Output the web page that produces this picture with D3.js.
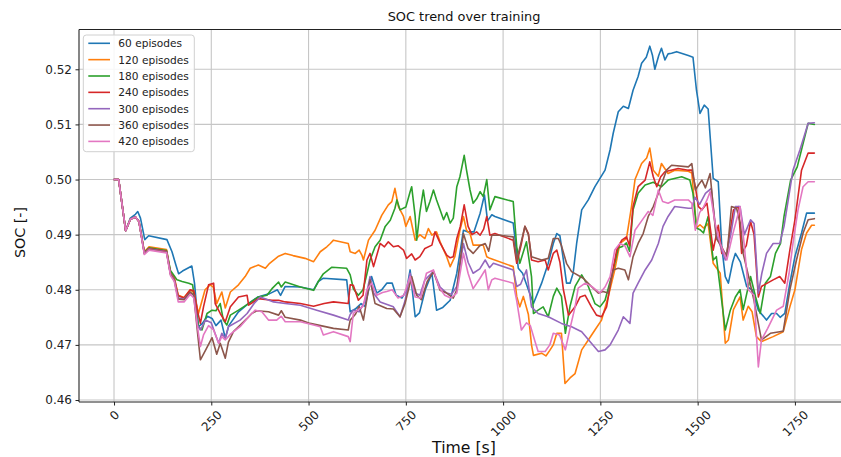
<!DOCTYPE html>
<html>
<head>
<meta charset="utf-8">
<script src="https://cdn.jsdelivr.net/npm/d3@7"></script>
<style>
  html, body { margin: 0; padding: 0; background: #fff; }
  svg { display: block; font-family: "DejaVu Sans", sans-serif; }
</style>
</head>
<body>
<svg id="chart" width="841" height="457"></svg>
<script>
// Tick values
const timeTicks = [0, 250, 500, 750, 1000, 1250, 1500, 1750];
const socTicks = [0.46, 0.47, 0.48, 0.49, 0.50, 0.51, 0.52];

// Legend labels and colours (one per training checkpoint)
const episodeLabels = ["60 episodes", "120 episodes", "180 episodes", "240 episodes", "300 episodes", "360 episodes", "420 episodes"];
const episodeColors = ["#1f77b4", "#ff7f0e", "#2ca02c", "#d62728", "#9467bd", "#8c564b", "#e377c2"];

// SOC traces: [time in s, SOC]
const soc60 = [[0,0.5000],[12,0.5000],[30,0.4907],[42,0.4930],[55,0.4937],[61,0.4942],[68,0.4930],[79,0.4891],[89,0.4898],[136,0.4891],[149,0.4869],[159,0.4845],[166,0.4829],[176,0.4834],[200,0.4843],[207,0.4811],[217,0.4733],[226,0.4738],[240,0.4752],[252,0.4748],[262,0.4735],[275,0.4745],[286,0.4712],[295,0.4735],[320,0.4760],[345,0.4775],[370,0.4787],[400,0.4793],[420,0.4800],[428,0.4790],[440,0.4806],[479,0.4805],[513,0.4800],[525,0.4815],[538,0.4821],[598,0.4818],[607,0.4760],[620,0.4765],[635,0.4775],[645,0.4770],[662,0.4824],[675,0.4794],[688,0.4800],[701,0.4812],[715,0.4812],[725,0.4790],[740,0.4785],[752,0.4800],[761,0.4836],[774,0.4751],[785,0.4758],[800,0.4800],[817,0.4830],[829,0.4763],[845,0.4768],[864,0.4781],[881,0.4830],[898,0.4908],[910,0.4905],[925,0.4905],[941,0.4939],[952,0.4972],[960,0.4925],[971,0.4936],[979,0.4933],[1026,0.4921],[1035,0.4866],[1039,0.4839],[1050,0.4830],[1065,0.4800],[1078,0.4775],[1099,0.4812],[1116,0.4848],[1129,0.4884],[1138,0.4902],[1146,0.4898],[1155,0.4854],[1163,0.4812],[1172,0.4812],[1180,0.4830],[1189,0.4884],[1202,0.4945],[1219,0.4963],[1236,0.4987],[1249,0.5002],[1262,0.5017],[1275,0.5054],[1283,0.5084],[1296,0.5123],[1309,0.5133],[1322,0.5129],[1334,0.5162],[1347,0.5187],[1356,0.5211],[1368,0.5222],[1377,0.5242],[1384,0.5225],[1390,0.5200],[1400,0.5225],[1407,0.5238],[1416,0.5217],[1424,0.5228],[1433,0.5229],[1446,0.5232],[1476,0.5225],[1488,0.5222],[1497,0.5162],[1506,0.5120],[1517,0.5135],[1527,0.5128],[1540,0.5002],[1553,0.4996],[1562,0.4878],[1571,0.4824],[1579,0.4812],[1590,0.4850],[1597,0.4866],[1610,0.4850],[1626,0.4806],[1640,0.4800],[1656,0.4763],[1677,0.4745],[1690,0.4757],[1703,0.4757],[1712,0.4750],[1724,0.4757],[1737,0.4812],[1750,0.4860],[1767,0.4903],[1780,0.4939],[1800,0.4939]];

const soc120 = [[0,0.5000],[12,0.5000],[30,0.4907],[42,0.4928],[55,0.4932],[64,0.4924],[78,0.4869],[90,0.4878],[135,0.4873],[145,0.4832],[155,0.4822],[165,0.4790],[180,0.4786],[196,0.4800],[205,0.4795],[217,0.4757],[234,0.4800],[247,0.4809],[255,0.4805],[264,0.4775],[277,0.4796],[286,0.4767],[299,0.4796],[320,0.4809],[337,0.4824],[350,0.4839],[371,0.4845],[389,0.4839],[400,0.4848],[423,0.4861],[440,0.4866],[460,0.4862],[491,0.4857],[513,0.4851],[530,0.4869],[547,0.4878],[556,0.4884],[564,0.4890],[602,0.4884],[607,0.4869],[620,0.4866],[630,0.4872],[637,0.4863],[641,0.4854],[654,0.4890],[671,0.4908],[688,0.4935],[705,0.4954],[714,0.4960],[722,0.4984],[731,0.4951],[744,0.4933],[750,0.4915],[761,0.4933],[774,0.4890],[786,0.4900],[799,0.4893],[808,0.4911],[817,0.4899],[829,0.4905],[838,0.4887],[855,0.4860],[864,0.4842],[876,0.4860],[889,0.4908],[898,0.4933],[906,0.4908],[915,0.4902],[923,0.4881],[949,0.4881],[958,0.4860],[966,0.4857],[1026,0.4842],[1035,0.4788],[1043,0.4769],[1052,0.4788],[1065,0.4755],[1073,0.4700],[1078,0.4681],[1099,0.4685],[1110,0.4680],[1120,0.4690],[1129,0.4700],[1138,0.4721],[1150,0.4721],[1159,0.4630],[1172,0.4640],[1185,0.4648],[1202,0.4691],[1219,0.4709],[1236,0.4727],[1253,0.4745],[1270,0.4787],[1287,0.4836],[1300,0.4884],[1317,0.4893],[1330,0.4951],[1339,0.5000],[1356,0.5029],[1369,0.5039],[1377,0.5057],[1386,0.5017],[1399,0.5006],[1407,0.5029],[1424,0.5011],[1441,0.5017],[1476,0.5015],[1485,0.5012],[1488,0.4987],[1497,0.4912],[1506,0.4918],[1515,0.4912],[1527,0.4920],[1540,0.4848],[1558,0.4830],[1571,0.4703],[1579,0.4709],[1592,0.4764],[1609,0.4787],[1617,0.4745],[1630,0.4770],[1640,0.4760],[1651,0.4715],[1664,0.4706],[1694,0.4715],[1720,0.4724],[1737,0.4769],[1750,0.4800],[1767,0.4873],[1780,0.4903],[1793,0.4917],[1800,0.4917]];

const soc180 = [[0,0.5000],[12,0.5000],[30,0.4907],[42,0.4928],[55,0.4932],[64,0.4924],[78,0.4868],[90,0.4876],[135,0.4871],[145,0.4835],[155,0.4825],[162,0.4818],[175,0.4815],[192,0.4812],[202,0.4809],[217,0.4733],[226,0.4727],[239,0.4757],[252,0.4763],[262,0.4762],[273,0.4775],[281,0.4745],[290,0.4736],[299,0.4754],[320,0.4763],[346,0.4775],[371,0.4787],[393,0.4790],[406,0.4802],[423,0.4814],[430,0.4805],[440,0.4814],[479,0.4805],[513,0.4799],[525,0.4815],[538,0.4829],[560,0.4841],[598,0.4839],[607,0.4827],[615,0.4802],[628,0.4790],[640,0.4800],[650,0.4829],[658,0.4854],[671,0.4878],[684,0.4890],[697,0.4915],[710,0.4926],[722,0.4948],[727,0.4963],[735,0.4945],[750,0.4950],[761,0.4978],[765,0.4987],[774,0.4933],[778,0.4890],[786,0.4940],[795,0.4981],[803,0.4942],[812,0.4960],[821,0.4981],[829,0.4963],[838,0.4945],[847,0.4927],[855,0.4940],[864,0.4921],[872,0.4930],[881,0.4987],[889,0.5005],[900,0.5044],[906,0.5017],[915,0.4981],[923,0.4957],[932,0.4965],[941,0.4978],[949,0.4969],[958,0.5000],[966,0.4945],[979,0.4969],[1026,0.4960],[1035,0.4878],[1043,0.4848],[1060,0.4887],[1073,0.4824],[1078,0.4757],[1090,0.4763],[1103,0.4769],[1116,0.4751],[1129,0.4788],[1138,0.4803],[1150,0.4788],[1160,0.4721],[1172,0.4770],[1185,0.4806],[1202,0.4827],[1219,0.4806],[1236,0.4775],[1249,0.4769],[1262,0.4781],[1283,0.4836],[1296,0.4876],[1305,0.4878],[1317,0.4885],[1325,0.4870],[1334,0.4945],[1347,0.4975],[1365,0.4990],[1386,0.4995],[1407,0.4987],[1424,0.4999],[1459,0.5005],[1480,0.4999],[1488,0.4975],[1497,0.4912],[1506,0.4909],[1515,0.4903],[1527,0.4933],[1540,0.4854],[1548,0.4860],[1571,0.4727],[1584,0.4763],[1597,0.4787],[1609,0.4800],[1617,0.4764],[1636,0.4824],[1649,0.4787],[1661,0.4757],[1674,0.4812],[1687,0.4824],[1700,0.4866],[1713,0.4884],[1722,0.4933],[1739,0.4999],[1756,0.5023],[1784,0.5102],[1800,0.5100]];

const soc240 = [[0,0.5000],[12,0.5000],[30,0.4907],[42,0.4928],[55,0.4932],[64,0.4924],[78,0.4867],[90,0.4875],[135,0.4870],[145,0.4830],[155,0.4820],[165,0.4789],[180,0.4785],[196,0.4800],[205,0.4798],[215,0.4760],[222,0.4739],[230,0.4769],[243,0.4809],[256,0.4812],[260,0.4775],[273,0.4757],[286,0.4742],[299,0.4769],[320,0.4787],[342,0.4790],[346,0.4772],[371,0.4784],[406,0.4781],[423,0.4781],[440,0.4778],[479,0.4775],[513,0.4770],[540,0.4775],[564,0.4778],[602,0.4775],[607,0.4809],[615,0.4808],[628,0.4781],[640,0.4790],[650,0.4854],[658,0.4866],[667,0.4842],[684,0.4884],[695,0.4878],[705,0.4887],[718,0.4878],[730,0.4880],[744,0.4872],[752,0.4857],[765,0.4865],[774,0.4854],[786,0.4860],[799,0.4875],[817,0.4881],[825,0.4905],[838,0.4885],[855,0.4863],[864,0.4858],[872,0.4860],[881,0.4893],[890,0.4915],[900,0.4954],[910,0.4915],[920,0.4900],[932,0.4905],[941,0.4899],[950,0.4910],[958,0.4933],[966,0.4899],[979,0.4902],[1026,0.4890],[1035,0.4848],[1046,0.4880],[1056,0.4915],[1065,0.4902],[1073,0.4854],[1090,0.4851],[1108,0.4854],[1116,0.4836],[1129,0.4866],[1138,0.4872],[1146,0.4850],[1155,0.4800],[1168,0.4754],[1185,0.4769],[1198,0.4787],[1211,0.4790],[1227,0.4769],[1240,0.4754],[1253,0.4751],[1266,0.4769],[1279,0.4824],[1292,0.4872],[1305,0.4890],[1317,0.4896],[1325,0.4880],[1334,0.4951],[1347,0.4987],[1365,0.4999],[1377,0.5032],[1386,0.5005],[1395,0.4987],[1405,0.5005],[1416,0.5014],[1450,0.5020],[1476,0.5017],[1485,0.5017],[1494,0.4987],[1502,0.4951],[1511,0.4945],[1524,0.4957],[1540,0.4872],[1553,0.4917],[1562,0.4866],[1575,0.4866],[1592,0.4945],[1605,0.4951],[1613,0.4866],[1625,0.4880],[1636,0.4924],[1645,0.4900],[1656,0.4787],[1664,0.4806],[1694,0.4818],[1711,0.4824],[1724,0.4812],[1737,0.4872],[1750,0.4927],[1767,0.5017],[1784,0.5048],[1800,0.5048]];

const soc300 = [[0,0.5000],[12,0.5000],[30,0.4907],[42,0.4928],[55,0.4932],[64,0.4924],[78,0.4866],[90,0.4874],[135,0.4869],[145,0.4829],[155,0.4818],[165,0.4785],[180,0.4783],[196,0.4795],[205,0.4790],[215,0.4735],[222,0.4727],[235,0.4745],[250,0.4740],[260,0.4720],[269,0.4703],[277,0.4721],[286,0.4712],[294,0.4733],[324,0.4745],[342,0.4757],[360,0.4775],[376,0.4787],[395,0.4782],[410,0.4778],[440,0.4775],[479,0.4772],[521,0.4763],[564,0.4754],[602,0.4745],[607,0.4755],[615,0.4763],[630,0.4760],[645,0.4780],[658,0.4824],[667,0.4794],[684,0.4778],[718,0.4769],[735,0.4751],[748,0.4780],[761,0.4830],[774,0.4794],[786,0.4790],[799,0.4818],[821,0.4833],[838,0.4805],[855,0.4794],[868,0.4792],[881,0.4806],[898,0.4884],[910,0.4850],[923,0.4830],[940,0.4838],[954,0.4854],[965,0.4840],[975,0.4848],[1026,0.4836],[1035,0.4806],[1045,0.4810],[1060,0.4836],[1073,0.4769],[1090,0.4757],[1116,0.4751],[1150,0.4739],[1176,0.4733],[1202,0.4724],[1227,0.4703],[1245,0.4688],[1262,0.4691],[1275,0.4700],[1296,0.4727],[1309,0.4751],[1326,0.4739],[1334,0.4794],[1347,0.4812],[1365,0.4836],[1382,0.4854],[1399,0.4884],[1411,0.4915],[1424,0.4933],[1441,0.4951],[1476,0.4948],[1485,0.4948],[1493,0.4968],[1505,0.4955],[1520,0.4975],[1535,0.4984],[1548,0.4900],[1571,0.4854],[1585,0.4900],[1597,0.4951],[1609,0.4951],[1620,0.4900],[1636,0.4927],[1645,0.4920],[1656,0.4794],[1665,0.4830],[1677,0.4866],[1694,0.4884],[1711,0.4884],[1722,0.4915],[1745,0.5017],[1763,0.5054],[1784,0.5102],[1800,0.5103]];

const soc360 = [[0,0.5000],[12,0.5000],[30,0.4907],[42,0.4928],[55,0.4932],[64,0.4924],[78,0.4865],[90,0.4873],[135,0.4868],[145,0.4828],[155,0.4817],[165,0.4783],[180,0.4782],[196,0.4796],[205,0.4790],[215,0.4720],[222,0.4673],[235,0.4690],[252,0.4713],[264,0.4683],[273,0.4703],[286,0.4676],[294,0.4705],[307,0.4724],[329,0.4739],[342,0.4748],[354,0.4757],[367,0.4762],[397,0.4760],[423,0.4754],[430,0.4762],[440,0.4750],[479,0.4745],[504,0.4739],[564,0.4730],[602,0.4727],[607,0.4745],[620,0.4755],[630,0.4770],[641,0.4745],[658,0.4818],[671,0.4775],[701,0.4766],[718,0.4765],[735,0.4751],[748,0.4775],[765,0.4824],[778,0.4790],[790,0.4782],[805,0.4815],[821,0.4833],[838,0.4799],[855,0.4794],[872,0.4785],[881,0.4800],[898,0.4902],[910,0.4875],[923,0.4866],[940,0.4880],[954,0.4884],[963,0.4870],[971,0.4899],[992,0.4899],[1026,0.4896],[1035,0.4854],[1046,0.4885],[1056,0.4915],[1065,0.4900],[1073,0.4860],[1099,0.4854],[1116,0.4857],[1129,0.4893],[1142,0.4893],[1150,0.4880],[1163,0.4848],[1176,0.4833],[1206,0.4821],[1227,0.4806],[1245,0.4794],[1257,0.4797],[1270,0.4794],[1283,0.4836],[1296,0.4839],[1313,0.4836],[1322,0.4818],[1334,0.4860],[1347,0.4884],[1360,0.4902],[1373,0.4933],[1386,0.4951],[1399,0.4975],[1411,0.4999],[1420,0.5017],[1433,0.5026],[1476,0.5023],[1485,0.5029],[1494,0.4981],[1502,0.4990],[1511,0.4999],[1520,0.4985],[1532,0.5011],[1540,0.4950],[1548,0.4893],[1560,0.4880],[1575,0.4860],[1587,0.4951],[1600,0.4948],[1610,0.4920],[1617,0.4866],[1630,0.4827],[1645,0.4780],[1664,0.4709],[1687,0.4721],[1711,0.4724],[1720,0.4725],[1737,0.4800],[1754,0.4854],[1771,0.4903],[1784,0.4927],[1800,0.4929]];

const soc420 = [[0,0.5000],[12,0.5000],[30,0.4907],[42,0.4928],[55,0.4932],[64,0.4924],[78,0.4864],[90,0.4872],[135,0.4867],[145,0.4826],[155,0.4815],[165,0.4778],[180,0.4778],[196,0.4792],[205,0.4785],[215,0.4730],[222,0.4697],[230,0.4718],[243,0.4735],[256,0.4727],[269,0.4703],[277,0.4715],[286,0.4709],[300,0.4720],[324,0.4733],[346,0.4751],[363,0.4763],[380,0.4760],[397,0.4745],[418,0.4745],[430,0.4752],[440,0.4742],[479,0.4742],[513,0.4736],[530,0.4733],[538,0.4718],[564,0.4724],[602,0.4715],[607,0.4706],[615,0.4757],[630,0.4765],[640,0.4770],[650,0.4800],[662,0.4812],[675,0.4790],[690,0.4795],[701,0.4797],[715,0.4800],[730,0.4785],[745,0.4790],[761,0.4824],[774,0.4787],[788,0.4785],[803,0.4830],[821,0.4836],[835,0.4805],[850,0.4790],[865,0.4785],[881,0.4794],[898,0.4866],[910,0.4830],[923,0.4802],[940,0.4820],[954,0.4836],[962,0.4800],[971,0.4818],[979,0.4821],[1026,0.4812],[1035,0.4780],[1047,0.4727],[1060,0.4740],[1070,0.4735],[1082,0.4706],[1090,0.4688],[1108,0.4688],[1120,0.4700],[1129,0.4721],[1145,0.4718],[1160,0.4691],[1172,0.4730],[1185,0.4769],[1193,0.4803],[1211,0.4812],[1230,0.4805],[1249,0.4794],[1262,0.4805],[1275,0.4824],[1287,0.4872],[1300,0.4884],[1313,0.4880],[1326,0.4860],[1339,0.4908],[1356,0.4925],[1373,0.4942],[1385,0.4935],[1399,0.4981],[1410,0.4960],[1424,0.4957],[1441,0.4963],[1476,0.4963],[1485,0.4957],[1494,0.4908],[1505,0.4940],[1515,0.4950],[1524,0.4963],[1532,0.4978],[1545,0.4920],[1558,0.4884],[1575,0.4854],[1590,0.4900],[1609,0.4951],[1620,0.4880],[1630,0.4800],[1645,0.4790],[1656,0.4660],[1664,0.4709],[1680,0.4730],[1703,0.4763],[1720,0.4770],[1735,0.4830],[1745,0.4884],[1758,0.4945],[1771,0.4987],[1784,0.4996],[1800,0.4996]];

const traces = [soc60, soc120, soc180, soc240, soc300, soc360, soc420];

const svg = d3.select("#chart");
const plot = { left: 79, right: 849, top: 29.5, bottom: 402 };

const x = d3.scaleLinear().domain([-90, 1889]).range([plot.left, plot.right]);
const y = d3.scaleLinear().domain([0.45964, 0.52722]).range([plot.bottom, plot.top]);

// Grid
const grid = svg.append("g").attr("class", "grid");
grid.selectAll("line.v").data(timeTicks).join("line")
  .attr("x1", d => x(d)).attr("x2", d => x(d))
  .attr("y1", plot.top).attr("y2", plot.bottom)
  .attr("stroke", "#c6c6c6").attr("stroke-width", 1.1);
grid.selectAll("line.h").data(socTicks).join("line")
  .attr("x1", plot.left).attr("x2", plot.right)
  .attr("y1", d => y(d)).attr("y2", d => y(d))
  .attr("stroke", "#c6c6c6").attr("stroke-width", 1.1);

// Lines
const line = d3.line().x(d => x(d[0])).y(d => y(d[1]));
svg.append("g").selectAll("path").data(traces).join("path")
  .attr("d", line)
  .attr("fill", "none")
  .attr("stroke", (d, i) => episodeColors[i])
  .attr("stroke-width", 1.6)
  .attr("stroke-linejoin", "round")
  .attr("stroke-linecap", "round");

// Axes
const yAxis = svg.append("g").attr("transform", `translate(${plot.left},0)`)
  .call(d3.axisLeft(y).tickValues(socTicks).tickFormat(d3.format(".2f")).tickSize(3.5).tickPadding(3.5));
yAxis.select(".domain").remove();
yAxis.selectAll("line").attr("stroke", "#222").attr("stroke-width", 1);
yAxis.selectAll("text").attr("font-size", 12).attr("fill", "#222")
  .attr("font-family", "DejaVu Sans, sans-serif");

const xAxis = svg.append("g").attr("transform", `translate(0,${plot.bottom})`)
  .call(d3.axisBottom(x).tickValues(timeTicks).tickFormat(d3.format("d")).tickSize(3.5).tickPadding(3.5));
xAxis.select(".domain").remove();
xAxis.selectAll("line").attr("stroke", "#222").attr("stroke-width", 1);
xAxis.selectAll("text")
  .attr("font-size", 12).attr("fill", "#222")
  .attr("font-family", "DejaVu Sans, sans-serif")
  .attr("y", null).attr("dy", null)
  .attr("text-anchor", "middle")
  .attr("dominant-baseline", "central")
  .each(function () {
    const w = this.getComputedTextLength();
    const h = 11;
    const off = 7 + (w + h) / (2 * Math.SQRT2);
    d3.select(this).attr("transform", `translate(0,${off}) rotate(-45)`);
  });

// Spines (left, top, bottom)
const spine = svg.append("g").attr("stroke", "#222").attr("stroke-width", 1.1).attr("fill", "none");
spine.append("line").attr("x1", plot.left).attr("x2", plot.left).attr("y1", plot.top).attr("y2", plot.bottom);
spine.append("line").attr("x1", plot.left).attr("x2", plot.right).attr("y1", plot.top).attr("y2", plot.top);
spine.append("line").attr("x1", plot.left).attr("x2", plot.right).attr("y1", plot.bottom).attr("y2", plot.bottom);

// Title and axis labels
svg.append("text").attr("x", (plot.left + plot.right) / 2).attr("y", 20.5)
  .attr("text-anchor", "middle").attr("font-size", 12.9).attr("fill", "#111")
  .text("SOC trend over training");
svg.append("text").attr("x", 464).attr("y", 453)
  .attr("text-anchor", "middle").attr("font-size", 15.7).attr("fill", "#111")
  .text("Time [s]");
svg.append("text").attr("transform", "translate(24.5,232.5) rotate(-90)")
  .attr("text-anchor", "middle").attr("font-size", 14.3).attr("fill", "#111")
  .text("SOC [-]");

// Legend
const legend = svg.append("g");
legend.append("rect")
  .attr("x", 83.3).attr("y", 35).attr("width", 111).attr("height", 116.7)
  .attr("rx", 3).attr("fill", "#fff").attr("fill-opacity", 0.85)
  .attr("stroke", "#d0d0d0").attr("stroke-width", 1);
const rows = legend.selectAll("g.row").data(episodeLabels).join("g")
  .attr("transform", (d, i) => `translate(0,${43.3 + i * 16.35})`);
rows.append("line").attr("x1", 88.3).attr("x2", 110).attr("y1", 0).attr("y2", 0)
  .attr("stroke", (d, i) => episodeColors[i]).attr("stroke-width", 1.6);
rows.append("text").attr("x", 118.3).attr("y", 0).attr("dominant-baseline", "central")
  .attr("font-size", 10.6).attr("fill", "#222").text(d => d);
</script>
</body>
</html>
